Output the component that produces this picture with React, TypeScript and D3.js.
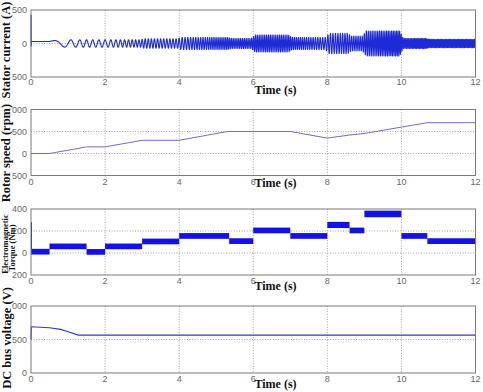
import React from "react";
import * as d3 from "d3";

// ---------- shared time axis ----------
const timeTicks = [0, 2, 4, 6, 8, 10, 12];
const timeTickLabels = ["0", "2", "4", "6", "8", "10", "12"];

// ---------- stator current ----------
const currentYTicks = [500, 0, -500];
const currentYTickLabels = ["500", "0", "500"];
const currentStartT = [0, 0.003, 0.006, 0.01];
const currentStartI = [0, 430, -45, 30];
const currentEnvT = [0, 0.5, 0.65, 1.0, 2.95, 3.05, 3.95, 4.05, 5.3, 5.4, 5.95, 6.05, 6.95, 7.05, 7.95, 8.05, 8.55, 8.65, 8.95, 9.05, 9.95, 10.05, 10.65, 10.75, 12];
const currentEnvA = [30, 30, 50, 55, 55, 70, 70, 90, 90, 75, 75, 125, 125, 90, 90, 150, 150, 110, 110, 185, 185, 75, 75, 62, 62];

// ---------- rotor speed ----------
const speedYTicks = [1000, 500, 0, -500];
const speedYTickLabels = ["000", "500", "0", "500"];
const speedT = [0, 0.5, 1.5, 2, 3, 4, 5.3, 7, 8, 8.6, 9, 10, 10.7, 12];
const speedV = [0, 0, 150, 150, 300, 300, 500, 500, 350, 420, 455, 600, 700, 700];

// ---------- electromagnetic torque ----------
const torqueYTicks = [400, 200, 0, -200];
const torqueYTickLabels = ["400", "200", "0", "200"];
const torqueEdges = [0, 0.5, 1.5, 2, 3, 4, 5.35, 6, 7, 8, 8.6, 9, 10, 10.7, 12];
const torqueMean = [12, 60, 10, 60, 105, 155, 108, 205, 155, 255, 205, 355, 155, 108];
const torqueRipple = [26, 26, 26, 26, 26, 26, 26, 26, 26, 28, 26, 30, 26, 26];
const torqueSpike = [0, 280];

// ---------- DC bus voltage ----------
const voltYTicks = [1000, 500, 0];
const voltYTickLabels = ["000", "500", "0"];
const voltT = [0, 0.01, 0.5, 0.8, 1.0, 1.28, 12];
const voltV = [500, 690, 675, 650, 615, 565, 565];

const X0 = 31;
const X1 = 475.5;
const x = d3.scaleLinear().domain([0, 12]).range([X0, X1]);

const serif = "'Liberation Serif', 'Times New Roman', serif";
const sans = "'Liberation Sans', Arial, sans-serif";

function Frame({ top, bottom, y, yTicks, yLabels, tickBase, timeBase }) {
  const [d0, d1] = y.domain();
  return (
    <g>
      {timeTicks.slice(1, -1).map((t) => (
        <line key={"vx" + t} x1={x(t)} x2={x(t)} y1={top} y2={bottom} stroke="#8a8a8a" strokeWidth={0.8} strokeDasharray="1,1.6" />
      ))}
      {yTicks.filter((v) => v !== d0 && v !== d1).map((v) => (
        <line key={"hy" + v} x1={X0} x2={X1} y1={y(v)} y2={y(v)} stroke="#8a8a8a" strokeWidth={0.8} strokeDasharray="1,1.6" />
      ))}
      {timeTicks.map((t, i) => (
        <text key={"tx" + t} x={x(t)} y={tickBase} textAnchor="middle" fontFamily={sans} fontSize={9} fill="#666">
          {timeTickLabels[i]}
        </text>
      ))}
      {yTicks.map((v, i) => (
        <text key={"ty" + v} x={27} y={y(v)} dy="0.35em" textAnchor="end" fontFamily={sans} fontSize={9} fill="#666">
          {yLabels[i]}
        </text>
      ))}
      <text x={275.5} y={timeBase} textAnchor="middle" fontFamily={serif} fontWeight="bold" fontSize={12} fill="#111">
        Time (s)
      </text>
    </g>
  );
}

function Box({ top, bottom }) {
  return <rect x={X0} y={top} width={X1 - X0} height={bottom - top} fill="none" stroke="#7a7a7a" strokeWidth={1} />;
}

export default function App() {
  // Panel 1: stator current
  const p1 = { top: 10, bottom: 77 };
  const y1 = d3.scaleLinear().domain([-500, 500]).range([p1.bottom, p1.top]);
  const speedAt = d3.scaleLinear().domain(speedT).range(speedV).clamp(true);
  const ampAt = d3.scaleLinear().domain(currentEnvT).range(currentEnvA).clamp(true);
  const pts: [number, number][] = currentStartT.map((t, i) => [t, currentStartI[i]]);
  const dt = 1 / 3000;
  let phase = 0;
  for (let t = 0.01; t <= 12; t += dt) {
    phase += 2 * Math.PI * (speedAt(t) / 25) * dt;
    pts.push([t, ampAt(t) * Math.cos(phase)]);
  }
  const line1 = d3.line<[number, number]>().x((d) => x(d[0])).y((d) => y1(d[1]));

  // Panel 2: rotor speed
  const p2 = { top: 109.5, bottom: 175.5 };
  const y2 = d3.scaleLinear().domain([-500, 1000]).range([p2.bottom, p2.top]);
  const line2 = d3.line<number>().x((d, i) => x(speedT[i])).y((d) => y2(d));

  // Panel 3: torque
  const p3 = { top: 209, bottom: 275 };
  const y3 = d3.scaleLinear().domain([-200, 400]).range([p3.bottom, p3.top]);

  // Panel 4: DC bus voltage
  const p4 = { top: 306, bottom: 373 };
  const y4 = d3.scaleLinear().domain([0, 1000]).range([p4.bottom, p4.top]);
  const line4 = d3.line<number>().x((d, i) => x(voltT[i])).y((d) => y4(d));

  return (
    <svg width={483} height={392} style={{ position: "absolute", left: 0, top: 0, background: "#fff" }}>
      <rect x={0} y={0} width={483} height={392} fill="#fff" />

      {/* Panel 1 */}
      <Frame top={p1.top} bottom={p1.bottom} y={y1} yTicks={currentYTicks} yLabels={currentYTickLabels} tickBase={85} timeBase={94} />
      <path d={line1(pts) || ""} fill="none" stroke="#1e2ad6" strokeWidth={1.1} />
      <Box top={p1.top} bottom={p1.bottom} />
      <text transform={`translate(10,50) rotate(-90)`} textAnchor="middle" fontFamily={serif} fontWeight="bold" fontSize={12.5} fill="#111">
        Stator current (A)
      </text>

      {/* Panel 2 */}
      <Frame top={p2.top} bottom={p2.bottom} y={y2} yTicks={speedYTicks} yLabels={speedYTickLabels} tickBase={184.5} timeBase={186.5} />
      <path d={line2(speedV) || ""} fill="none" stroke="#6f6fbf" strokeWidth={1} />
      <Box top={p2.top} bottom={p2.bottom} />
      <text transform={`translate(9.5,153) rotate(-90)`} textAnchor="middle" fontFamily={serif} fontWeight="bold" fontSize={12.5} fill="#111">
        Rotor speed (rpm)
      </text>

      {/* Panel 3 */}
      <Frame top={p3.top} bottom={p3.bottom} y={y3} yTicks={torqueYTicks} yLabels={torqueYTickLabels} tickBase={283.5} timeBase={290} />
      {torqueMean.map((m, i) => (
        <rect
          key={"tq" + i}
          x={x(torqueEdges[i])}
          width={x(torqueEdges[i + 1]) - x(torqueEdges[i])}
          y={y3(m + torqueRipple[i])}
          height={y3(m - torqueRipple[i]) - y3(m + torqueRipple[i])}
          fill="#1212e6"
        />
      ))}
      <line x1={x(0) + 0.5} x2={x(0) + 0.5} y1={y3(torqueSpike[0])} y2={y3(torqueSpike[1])} stroke="#1212e6" strokeWidth={1} />
      <Box top={p3.top} bottom={p3.bottom} />
      <text transform={`translate(7.5,244) rotate(-90)`} textAnchor="middle" fontFamily={serif} fontWeight="bold" fontSize={8.5} fill="#111">
        Electromagnetic
      </text>
      <text transform={`translate(14.5,248) rotate(-90)`} textAnchor="middle" fontFamily={serif} fontWeight="bold" fontSize={8.5} fill="#111">
        Torque (Nm)
      </text>

      {/* Panel 4 */}
      <Frame top={p4.top} bottom={p4.bottom} y={y4} yTicks={voltYTicks} yLabels={voltYTickLabels} tickBase={381.5} timeBase={388} />
      <path d={line4(voltV) || ""} fill="none" stroke="#3535d0" strokeWidth={1.2} />
      <Box top={p4.top} bottom={p4.bottom} />
      <text transform={`translate(11,338) rotate(-90)`} textAnchor="middle" fontFamily={serif} fontWeight="bold" fontSize={12.5} fill="#111">
        DC bus voltage (V)
      </text>
    </svg>
  );
}
